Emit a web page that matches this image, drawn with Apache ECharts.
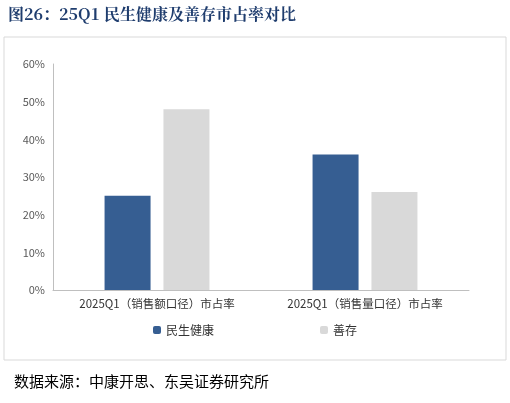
<!DOCTYPE html>
<html><head><meta charset="utf-8">
<script src="https://cdn.jsdelivr.net/npm/echarts@6/dist/echarts.min.js"></script>
<style>body{margin:0;background:#fff}#c{width:510px;height:403px}</style>
</head><body><div id="c"></div>
<script>
var categories = ["2025Q1（销售额口径）市占率", "2025Q1（销售量口径）市占率"];
var minsheng = [25, 36];
var shancun = [48, 26];
var yTicks = [0, 10, 20, 30, 40, 50, 60];

var chart = echarts.init(document.getElementById("c"));
var font = "Noto Sans CJK SC";
chart.setOption({
  textStyle: { fontFamily: font },
  graphic: [
    { type: "text", left: 8, top: 6, style: { text: "图26：25Q1 民生健康及善存市占率对比", font: "bold 16px 'Noto Serif CJK SC', 'Noto Sans CJK SC'", fill: "#1f3d6e" } },
    { type: "rect", shape: { x: 4, y: 37, width: 502, height: 323 }, style: { fill: "none", stroke: "#d9d9d9", lineWidth: 1 } },
    { type: "text", left: 14, top: 374, style: { text: "数据来源：中康开思、东吴证券研究所", font: "15px 'Noto Sans CJK SC'", fill: "#000" } }
  ],
  legend: {
    bottom: 62, itemWidth: 8, itemHeight: 8, itemGap: 106,
    textStyle: { fontSize: 12, color: "#333" },
    data: ["民生健康", "善存"]
  },
  grid: { left: 53, right: 41, top: 64, bottom: 113 },
  xAxis: {
    type: "category", data: categories,
    axisLine: { lineStyle: { color: "#bfbfbf" } },
    axisTick: { show: false },
    axisLabel: { color: "#333", fontSize: 11.5, margin: 8, interval: 0 }
  },
  yAxis: {
    type: "value", min: 0, max: 60, interval: 10,
    axisLine: { show: true, lineStyle: { color: "#bfbfbf" } },
    axisTick: { show: false },
    splitLine: { show: false },
    axisLabel: { color: "#595959", fontSize: 11, formatter: function (v) { return yTicks.indexOf(v) >= 0 ? v + "%" : ""; } }
  },
  series: [
    { name: "民生健康", type: "bar", data: minsheng, barWidth: 46, barGap: "28%", itemStyle: { color: "#365e92" } },
    { name: "善存", type: "bar", data: shancun, barWidth: 46, itemStyle: { color: "#d9d9d9" } }
  ]
});
</script></body></html>
